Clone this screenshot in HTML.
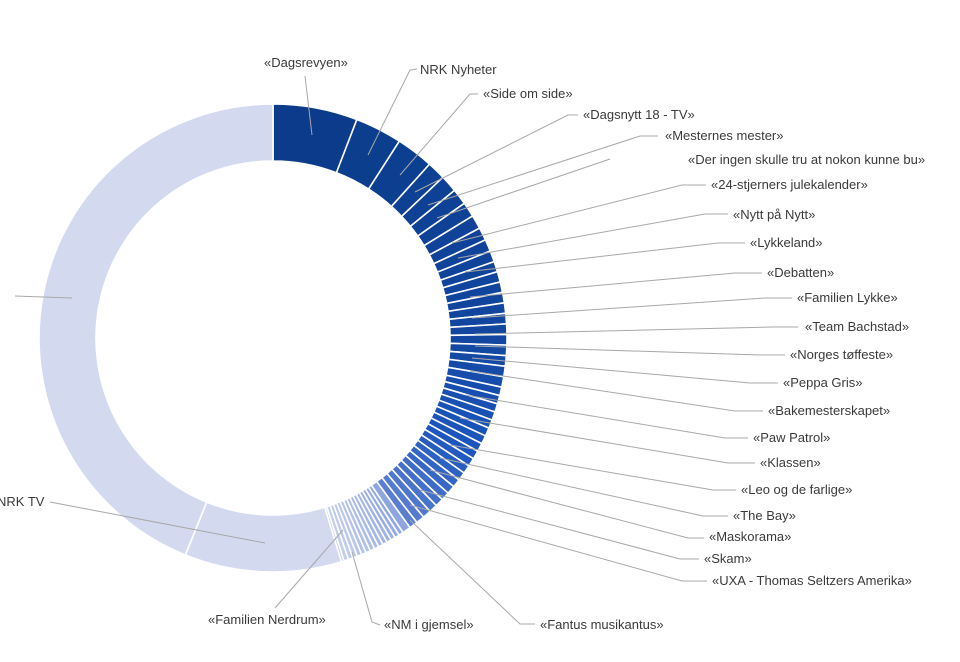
<!DOCTYPE html>
<html><head><meta charset="utf-8"><style>
html,body{margin:0;padding:0;background:#fff;width:960px;height:662px;overflow:hidden}
svg text{font-family:"Liberation Sans",sans-serif;font-size:13px;fill:#3a3a3a}
</style></head><body>
<svg id="s" width="960" height="662" viewBox="0 0 960 662" xmlns="http://www.w3.org/2000/svg">
<g id="ring"></g>
<g stroke="#a8a8a8" stroke-width="1" fill="none">
<polyline points="305,76 312,135"/>
<polyline points="417,69 410,70 368,155"/>
<polyline points="478,94 470,94 400,175"/>
<polyline points="578,115 568,115 415,192"/>
<polyline points="658,136 640,136 428,205"/>
<polyline points="610,159 437,218"/>
<polyline points="706,185 682,185 452,243"/>
<polyline points="728,214 705,214 458,258"/>
<polyline points="745,243 718,243 465,272"/>
<polyline points="762,273 735,273 470,297"/>
<polyline points="792,298 765,298 472,318"/>
<polyline points="798,327 772,327 475,334"/>
<polyline points="785,355 760,355 475,346"/>
<polyline points="778,383 750,383 472,358"/>
<polyline points="763,411 735,411 470,371"/>
<polyline points="748,438 725,438 465,395"/>
<polyline points="755,463 728,463 460,418"/>
<polyline points="736,490 713,490 450,445"/>
<polyline points="728,516 703,516 440,458"/>
<polyline points="704,538 688,538 430,470"/>
<polyline points="699,559 680,559 420,490"/>
<polyline points="707,581 682,581 410,505"/>
<polyline points="535,624 520,624 410,520"/>
<polyline points="380,625 372,622 352,552"/>
<polyline points="275,608 343,530"/>
<polyline points="50,502 265,543"/>
<polyline points="15,296 72,298"/>
</g>
<g>
<text x="264" y="67">«Dagsrevyen»</text>
<text x="420" y="74">NRK Nyheter</text>
<text x="483" y="98">«Side om side»</text>
<text x="583" y="119">«Dagsnytt 18 - TV»</text>
<text x="665" y="140">«Mesternes mester»</text>
<text x="688" y="164">«Der ingen skulle tru at nokon kunne bu»</text>
<text x="711" y="189">«24-stjerners julekalender»</text>
<text x="733" y="219">«Nytt på Nytt»</text>
<text x="750" y="247">«Lykkeland»</text>
<text x="767" y="277">«Debatten»</text>
<text x="797" y="302">«Familien Lykke»</text>
<text x="805" y="331">«Team Bachstad»</text>
<text x="790" y="359">«Norges tøffeste»</text>
<text x="783" y="387">«Peppa Gris»</text>
<text x="768" y="415">«Bakemesterskapet»</text>
<text x="753" y="442">«Paw Patrol»</text>
<text x="760" y="467">«Klassen»</text>
<text x="741" y="494">«Leo og de farlige»</text>
<text x="733" y="520">«The Bay»</text>
<text x="709" y="541">«Maskorama»</text>
<text x="704" y="563">«Skam»</text>
<text x="712" y="585">«UXA - Thomas Seltzers Amerika»</text>
<text x="540" y="629">«Fantus musikantus»</text>
<text x="384" y="629">«NM i gjemsel»</text>
<text x="208" y="624">«Familien Nerdrum»</text>
<text x="-3" y="506">NRK TV</text>
</g>
</svg>
<script>
(function(){
var cx=273,cy=338,R=234,r=177;
var g=document.getElementById('ring');
function pt(a,rad){var t=(a-90)*Math.PI/180;return [cx+rad*Math.cos(t),cy+rad*Math.sin(t)];}
function seg(a0,a1,col){
 var p1=pt(a0,R),p2=pt(a1,R),p3=pt(a1,r),p4=pt(a0,r);var lg=(a1-a0)>180?1:0;
 var d='M'+p1+' A'+R+','+R+' 0 '+lg+' 1 '+p2+' L'+p3+' A'+r+','+r+' 0 '+lg+' 0 '+p4+' Z';
 var e=document.createElementNS('http://www.w3.org/2000/svg','path');
 e.setAttribute('d',d);e.setAttribute('fill',col);e.setAttribute('stroke','#fff');e.setAttribute('stroke-width','1.6');
 g.appendChild(e);
}
function lerp(c1,c2,t){var o=[];for(var i=0;i<3;i++)o.push(Math.round(c1[i]+(c2[i]-c1[i])*t));return 'rgb('+o+')';}
var bounds=[0,21,32.7,42];
var a=42,w=4.6;
while(a<100){var n=a+w;bounds.push(n);a=n;w=Math.max(2.6,w*0.93);}
while(a<145){a+=2.1;bounds.push(a);}
while(a<163){a+=1.15;bounds.push(a);}
var dark=[10,58,135],mid=[28,86,190],lt=[95,130,210],pale=[200,210,238];
for(var i=0;i<bounds.length-1;i++){
 var m=(bounds[i]+bounds[i+1])/2,c;
 if(m<90)c=lerp(dark,[18,70,160],m/90);
 else if(m<120)c=lerp([18,70,160],mid,(m-90)/30);
 else if(m<145)c=lerp(mid,lt,(m-120)/25);
 else c=lerp([140,165,225],pale,(m-145)/18);
 seg(bounds[i],bounds[i+1],c);
}
seg(163,202,'#d3daf0');
seg(202,360,'#d3daf0');
})();
</script>
</body></html>
